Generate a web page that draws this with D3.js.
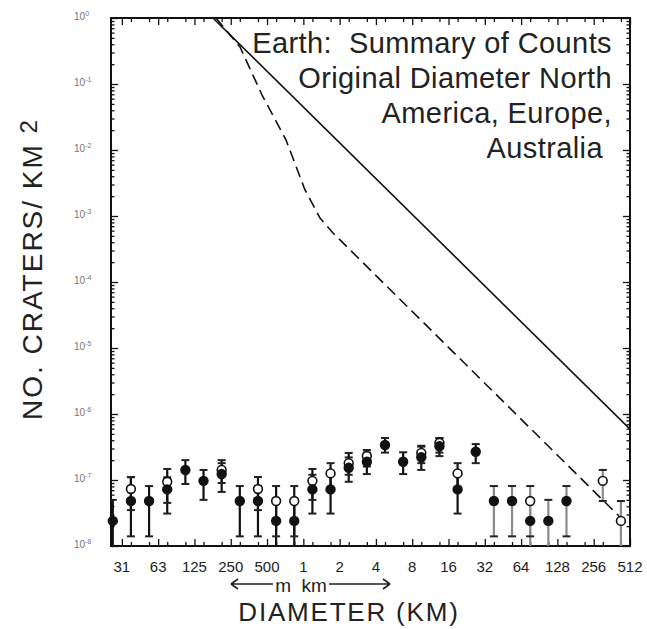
<!DOCTYPE html>
<html>
<head>
<meta charset="utf-8">
<script src="https://cdn.jsdelivr.net/npm/d3@7/dist/d3.min.js"></script>
<style>
  body { margin: 0; background: #fff; }
  text { font-family: "Liberation Sans", Arial, sans-serif; }
</style>
</head>
<body>
<svg id="chart" width="647" height="629"></svg>
<script>
// bins are half-octave steps, bin k is centred on 31.25 m * 2^((k-0.5)/2)
let filledBin = [0, 1, 2, 3, 4, 5, 6, 7, 8, 9, 10, 11, 12, 13, 14, 15, 16, 17, 18, 19, 20, 21, 22, 23, 24, 25];
let filledN = [2.4e-8, 4.8e-8, 4.8e-8, 7.2e-8, 1.42e-7, 9.7e-8, 1.23e-7, 4.8e-8, 4.8e-8, 2.4e-8, 2.4e-8, 7.2e-8, 7.2e-8,
  1.53e-7, 1.89e-7, 3.39e-7, 1.89e-7, 2.21e-7, 3.25e-7, 7.2e-8, 2.68e-7, 4.8e-8, 4.8e-8, 2.4e-8, 2.4e-8, 4.8e-8];
let filledLo = [5e-9, 1.4e-8, 1.4e-8, 3.1e-8, 8.7e-8, 5e-8, 6.6e-8, 1.4e-8, 1.4e-8, 5e-9, 5e-9, 3.1e-8, 3.1e-8,
  9.4e-8, 1.23e-7, 2.6e-7, 1.23e-7, 1.42e-7, 2.3e-7, 3.1e-8, 1.8e-7, 1.4e-8, 1.4e-8, 5e-9, 5e-9, 1.4e-8];
let filledHi = [5e-8, 1.1e-7, 8.1e-8, 1.1e-7, 2.0e-7, 1.42e-7, 2.0e-7, 8.1e-8, 8.1e-8, 5e-8, 5e-8, 1.2e-7, 1.2e-7,
  2.2e-7, 2.6e-7, 4.33e-7, 2.63e-7, 3.2e-7, 4.33e-7, 1.2e-7, 3.5e-7, 8.1e-8, 8.1e-8, 5e-8, 5e-8, 8.1e-8];

let openBin = [1, 3, 6, 8, 9, 10, 11, 12, 13, 14, 17, 18, 19, 23, 27, 28];
let openN = [7.3e-8, 9.4e-8, 1.42e-7, 7.3e-8, 4.8e-8, 4.8e-8, 9.7e-8, 1.26e-7, 1.8e-7, 2.31e-7, 2.57e-7, 3.66e-7, 1.26e-7, 4.8e-8, 9.7e-8, 2.4e-8];
let openLo = [3.5e-8, 4.5e-8, 9e-8, 3.5e-8, 1.4e-8, 1.4e-8, 5e-8, 7e-8, 1.2e-7, 1.6e-7, 1.8e-7, 2.6e-7, 7e-8, 1.4e-8, 4.8e-8, 5e-9];
let openHi = [1.11e-7, 1.47e-7, 1.8e-7, 1.11e-7, 8.1e-8, 8.1e-8, 1.47e-7, 1.8e-7, 2.57e-7, 2.85e-7, 3.3e-7, 4.33e-7, 1.8e-7, 8.1e-8, 1.42e-7, 4.8e-8];

// production curves (diameter km, craters / km2)
let solidD = [0.178, 512];
let solidN = [1, 5.9e-7];
let dashedD = [0.1887, 0.2985, 0.4544, 0.7183, 1.0325, 1.375, 1.763, 512];
let dashedN = [1, 0.364, 0.0681, 0.0142, 2.48e-3, 9.3e-4, 5.52e-4, 1.94e-8];

let xTickKm = [0.03125, 0.0625, 0.125, 0.25, 0.5, 1, 2, 4, 8, 16, 32, 64, 128, 256, 512];
let xTickText = ["31", "63", "125", "250", "500", "1", "2", "4", "8", "16", "32", "64", "128", "256", "512"];
let yExp = [0, -1, -2, -3, -4, -5, -6, -7, -8];

let titleLines = ["Earth:  Summary of Counts", "Original Diameter North", "America, Europe,", "Australia"];

let pLeft = 111, pRight = 630, pTop = 18, pBottom = 546;
let svg = d3.select("#chart");
svg.append("rect").attr("width", 647).attr("height", 629).attr("fill", "#fff");

let x = d3.scaleLog().base(2).domain([0.0254, 512]).range([pLeft, pRight]);
let y = d3.scaleLog().domain([1e-8, 1]).range([pBottom, pTop]);
let binKm = k => 0.03125 * Math.pow(2, (k - 0.5) / 2);

svg.append("clipPath").attr("id", "plotClip")
  .append("rect").attr("x", pLeft).attr("y", pTop).attr("width", pRight - pLeft).attr("height", pBottom - pTop);

// tick values
let yMinor = [];
yExp.slice(1).forEach(e => { for (let m = 2; m <= 9; m++) yMinor.push(m * Math.pow(10, e)); });
let yMajor = yExp.map(e => Math.pow(10, e));
let xHalf = d3.range(0, 29).map(j => 0.03125 * Math.pow(2, (j + 0.5) / 2)).filter(v => v < 512);

function addAxis(axis, transform) {
  let g = svg.append("g").attr("transform", transform).call(axis);
  g.select(".domain").remove();
  g.selectAll("line").attr("stroke", "#111").attr("stroke-width", 1.3);
  g.selectAll("text").remove();
}
addAxis(d3.axisLeft(y).tickValues(yMinor).tickSize(-3.5), `translate(${pLeft},0)`);
addAxis(d3.axisLeft(y).tickValues(yMajor).tickSize(-7), `translate(${pLeft},0)`);
addAxis(d3.axisRight(y).tickValues(yMinor).tickSize(-3.5), `translate(${pRight},0)`);
addAxis(d3.axisRight(y).tickValues(yMajor).tickSize(-7), `translate(${pRight},0)`);
addAxis(d3.axisBottom(x).tickValues(xHalf).tickSize(-4), `translate(0,${pBottom})`);
addAxis(d3.axisBottom(x).tickValues(xTickKm).tickSize(-7), `translate(0,${pBottom})`);
addAxis(d3.axisTop(x).tickValues(xHalf).tickSize(-4), `translate(0,${pTop})`);
addAxis(d3.axisTop(x).tickValues(xTickKm).tickSize(-7), `translate(0,${pTop})`);

svg.append("rect")
  .attr("x", pLeft).attr("y", pTop).attr("width", pRight - pLeft).attr("height", pBottom - pTop)
  .attr("fill", "none").attr("stroke", "#111").attr("stroke-width", 2);

// y tick labels
let yl = svg.append("g").selectAll("text").data(yExp).enter().append("text")
  .attr("x", 74).attr("y", d => y(Math.pow(10, d)) + 2)
  .attr("font-size", 10).attr("fill", "#777");
yl.append("tspan").text("10");
yl.append("tspan").attr("dy", -4).attr("font-size", 7).text(d => d);

// x tick labels
svg.append("g").selectAll("text").data(xTickKm).enter().append("text")
  .attr("x", d => x(d)).attr("y", 572)
  .attr("text-anchor", "middle").attr("font-size", 15).attr("fill", "#222")
  .text((d, i) => xTickText[i]);

// curves
let plot = svg.append("g").attr("clip-path", "url(#plotClip)");
let line = d3.line().x(d => x(d[0])).y(d => y(d[1]));
plot.append("path").attr("d", line(d3.zip(solidD, solidN)))
  .attr("fill", "none").attr("stroke", "#111").attr("stroke-width", 1.6);
plot.append("path").attr("d", line(d3.zip(dashedD, dashedN)))
  .attr("fill", "none").attr("stroke", "#111").attr("stroke-width", 1.6)
  .attr("stroke-linejoin", "round").attr("stroke-dasharray", "11,6");

// error bars
function drawBars(bins, lo, hi) {
  bins.forEach((k, i) => {
    let cx = x(binKm(k));
    let col = k >= 21 ? "#8a8a8a" : "#111";
    let g = plot.append("g");
    g.append("line").attr("x1", cx).attr("x2", cx).attr("y1", y(lo[i])).attr("y2", y(hi[i]))
      .attr("stroke", col).attr("stroke-width", 2.2);
    [lo[i], hi[i]].forEach(v => {
      g.append("line").attr("x1", cx - 4).attr("x2", cx + 4).attr("y1", y(v)).attr("y2", y(v))
        .attr("stroke", "#222").attr("stroke-width", 2);
    });
  });
}
drawBars(filledBin, filledLo, filledHi);
drawBars(openBin, openLo, openHi);

let marks = svg.append("g");
marks.append("g").selectAll("circle").data(openBin).enter().append("circle")
  .attr("cx", k => x(binKm(k))).attr("cy", (k, i) => y(openN[i])).attr("r", 4.4)
  .attr("fill", "#fff").attr("stroke", "#111").attr("stroke-width", 1.6);
marks.append("g").selectAll("circle").data(filledBin).enter().append("circle")
  .attr("cx", k => x(binKm(k))).attr("cy", (k, i) => y(filledN[i])).attr("r", 5.2)
  .attr("fill", "#111");

// title block
svg.append("g").selectAll("text").data(titleLines).enter().append("text")
  .attr("x", (d, i) => i == 3 ? 603 : 612).attr("y", (d, i) => 53 + i * 35)
  .attr("text-anchor", "end").attr("font-size", 29).attr("letter-spacing", 0.4).attr("fill", "#222")
  .style("white-space", "pre")
  .text(d => d);

// axis titles
let yt = svg.append("text").attr("transform", "translate(42,420) rotate(-90)")
  .attr("font-size", 28).attr("letter-spacing", 2).attr("fill", "#222");
yt.append("tspan").text("NO. CRATERS/ KM ");
yt.append("tspan").attr("dy", -5).attr("font-size", 24).text("2");

svg.append("text").attr("x", 349).attr("y", 621).attr("text-anchor", "middle")
  .attr("font-size", 26).attr("letter-spacing", 1.8).attr("fill", "#222").text("DIAMETER (KM)");

svg.append("text").attr("x", 301).attr("y", 592).attr("text-anchor", "middle")
  .attr("font-size", 19).attr("fill", "#222").style("white-space", "pre").text("m  km");

let arrows = svg.append("g").attr("stroke", "#222").attr("stroke-width", 1.6).attr("fill", "none");
arrows.append("path").attr("d", "M231,584 H273 M231,584 l7,-5 M231,584 l7,5");
arrows.append("path").attr("d", "M329,584 H390 M390,584 l-7,-5 M390,584 l-7,5");
</script>
</body>
</html>
